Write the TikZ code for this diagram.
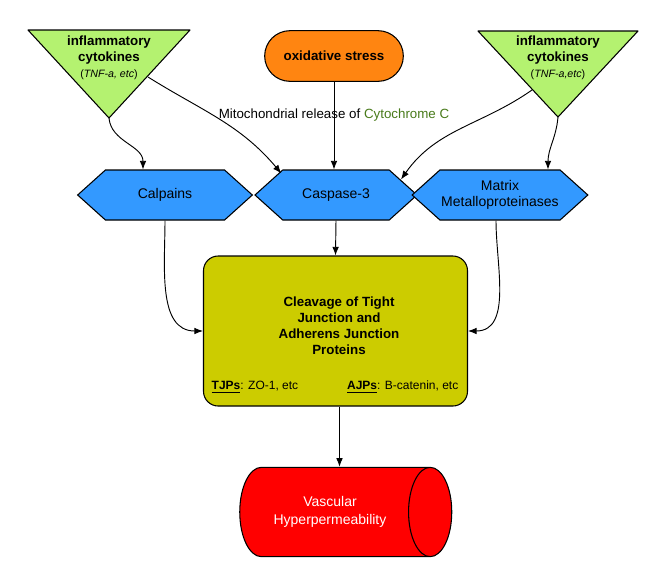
\documentclass[tikz,border=0pt]{standalone}
\usepackage{fontspec}
\setmainfont{Liberation Sans}
\usetikzlibrary{shapes.symbols,shapes.geometric,arrows.meta}
\definecolor{cytgreen}{RGB}{180,242,112}
\definecolor{oxorange}{RGB}{255,133,17}
\definecolor{hexblue}{RGB}{51,153,255}
\definecolor{olivebox}{RGB}{204,204,0}
\definecolor{textgreen}{RGB}{72,122,26}

\begin{document}
\begin{tikzpicture}[
    x=0.75pt, y=-0.75pt,
    every node/.style={font=\fontsize{10}{12}\selectfont, align=center},
    trifill/.style={draw, line width=0.8pt, fill=cytgreen, line join=round},
    oxbox/.style={draw, line width=0.8pt, fill=oxorange, rounded corners=19pt, minimum width=104pt, minimum height=38pt},
    hexbox/.style={draw, line width=0.8pt, fill=hexblue, signal, signal to=east and west, signal pointer angle=84, minimum width=121.5pt, minimum height=37.5pt, inner sep=1pt, font=\fontsize{10.5}{12.5}\selectfont},
    cleavebox/.style={draw, line width=0.8pt, fill=olivebox, rounded corners=11pt, minimum width=198pt, minimum height=112.5pt},
    tube/.style={draw, line width=0.8pt, cylinder, fill=red, aspect=1.1, minimum width=67pt, minimum height=159pt, text=white, font=\fontsize{10.5}{13}\selectfont},
    flow/.style={-{Latex[length=6.5pt,width=5pt]}, line width=0.7pt}
]
\useasboundingbox (0,0) rectangle (672,587);

% cytokine triangles
\draw[trifill] (28,30) -- (190,30) -- (109,118) coordinate (ltip) -- cycle;
\draw[trifill] (478,31) -- (638,31) -- (558,117) coordinate (rtip) -- cycle;
\coordinate (ledge) at (148,77);
\coordinate (redge) at (532,90);
\node[font=\fontsize{10}{12}\selectfont\bfseries] (lcyt) at (109,58) {inflammatory\\cytokines\\{\mdseries\fontsize{8}{10}\selectfont(\textit{TNF-a, etc})}};
\node[font=\fontsize{10}{12}\selectfont\bfseries] (rcyt) at (558,58) {inflammatory\\cytokines\\{\mdseries\fontsize{8}{10}\selectfont(\textit{TNF-a,etc})}};

% oxidative stress
\node[oxbox, font=\fontsize{10}{12}\selectfont\bfseries] (oxs) at (334,56) {oxidative stress};

% proteases
\node[hexbox, minimum width=131pt] (calp) at (165,195) {Calpains};
\node[hexbox] (casp) at (336,195) {Caspase-3};
\node[hexbox] (mmp) at (500,195) {Matrix\\Metalloproteinases};

% junction cleavage
\node[cleavebox] (clv) at (335.5,331) {};
\node[font=\fontsize{10}{12}\selectfont\bfseries] (clvt) at (339,326) {Cleavage of Tight\\Junction and\\Adherens Junction\\Proteins};
\node[font=\fontsize{9}{11}\selectfont, anchor=west] (tjp) at (207,387) {\underline{\textbf{TJPs}}: ZO-1, etc};
\node[font=\fontsize{9}{11}\selectfont, anchor=east] (ajp) at (463,387) {\underline{\textbf{AJPs}}: B-catenin, etc};

% outcome
\node[tube] (vh) at (330,512) {Vascular\\Hyperpermeability};

% arrows
\draw[flow] (ltip) to[out=-85,in=90] ([xshift=-16.5pt]calp.north);
\draw[flow] (ledge) to[out=-32,in=130] ([xshift=-41pt,yshift=-3pt]casp.north);
\draw[flow] (oxs.south) -- node[pos=0.375] {Mitochondrial release of \textcolor{textgreen}{Cytochrome C}} (oxs.south |- casp.north);
\draw[flow] (redge) to[out=-145,in=55] ([xshift=48.75pt,yshift=-7.5pt]casp.north);
\draw[flow] (rtip) to[out=-95,in=90] ([xshift=36pt]mmp.north);
\draw[flow] (calp.south) to[out=-90,in=180] (clv.west);
\draw[flow] ([xshift=-3pt]mmp.south) to[out=-90,in=0] (clv.east);
\draw[flow] (casp.south) -- (clv.north);
\draw[flow] ([xshift=3pt]clv.south) -- ([xshift=3pt]clv.south |- vh.north);

\end{tikzpicture}
\end{document}
